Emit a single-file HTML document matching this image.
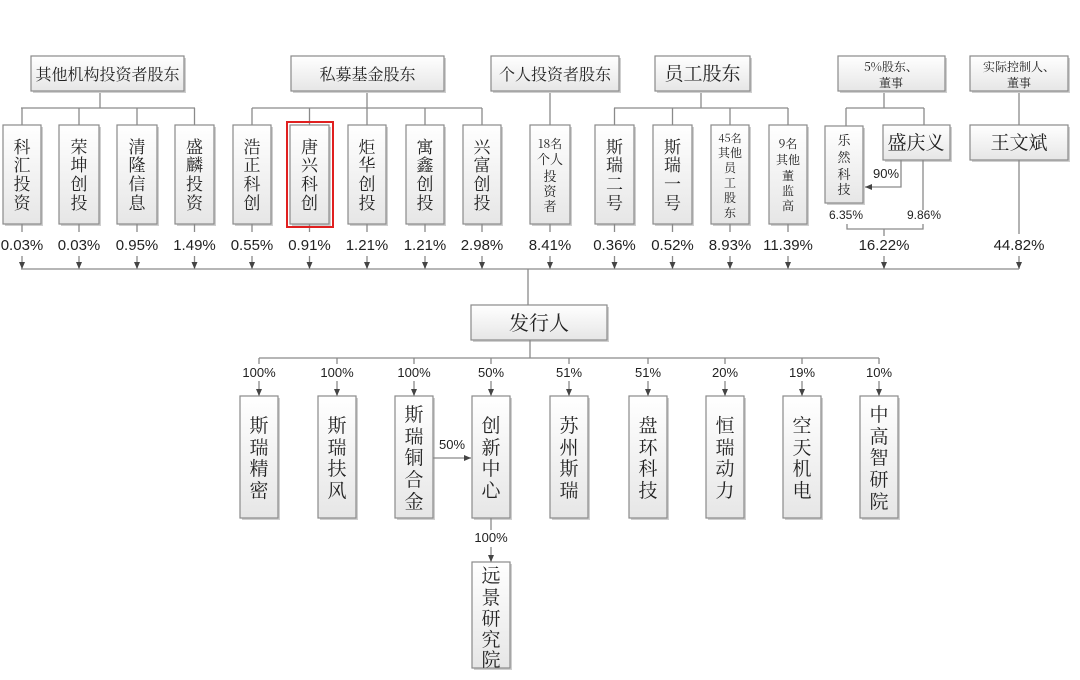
<!DOCTYPE html>
<html><head><meta charset="utf-8">
<style>
html,body{margin:0;padding:0;background:#fff;}
svg{display:block;}
text{font-family:"Liberation Sans","Noto Sans CJK SC",sans-serif;fill:#222;}
.cj{font-family:"Noto Serif CJK SC","Noto Sans CJK SC",serif;}
</style></head>
<body>
<svg id="s" width="1080" height="680" viewBox="0 0 1080 680" xmlns="http://www.w3.org/2000/svg">
<defs>
<linearGradient id="g" x1="0" y1="0" x2="0" y2="1">
<stop offset="0" stop-color="#ffffff"/><stop offset="1" stop-color="#e6e6e6"/>
</linearGradient>
<marker id="a" markerWidth="8" markerHeight="8" refX="7" refY="4" orient="auto" markerUnits="userSpaceOnUse">
<path d="M0,1 L7,4 L0,7 Z" fill="#444"/>
</marker>
</defs>
<g id="root"></g>
</svg>
<script>
var R=document.getElementById('root');var NS='http://www.w3.org/2000/svg';
function el(t,a,txt){var e=document.createElementNS(NS,t);for(var k in a)e.setAttribute(k,a[k]);if(txt!==undefined)e.textContent=txt;R.appendChild(e);return e;}
function box(x1,y1,x2,y2){el('rect',{x:x1+2,y:y1+2,width:x2-x1,height:y2-y1,fill:'#cfcfcf'});el('rect',{x:x1,y:y1,width:x2-x1,height:y2-y1,fill:'url(#g)',stroke:'#8a8a8a','stroke-width':1.2});}
function ln(pts,arrow){var a={points:pts,fill:'none',stroke:'#8a8a8a','stroke-width':1.3};if(arrow)a['marker-end']='url(#a)';el('polyline',a);}
function txt(x,y,s,size,cls){el('text',{x:x,y:y,'font-size':size,'text-anchor':'middle','class':cls||''},s);}
function vtext(cx,lines,ys,size){for(var i=0;i<lines.length;i++)txt(cx,ys[i],lines[i],size,'cj');}
ln('100,91 100,108');ln('21,108 195,108');
ln('367,91 367,108');ln('252,108 482,108');
ln('550,91 550,125');
ln('701,91 701,108');ln('614,108 788,108');
ln('884,91 884,108');ln('846,108 924,108');ln('846,108 846,126');ln('924,108 924,125');
ln('1019,91 1019,125');
var G=[[31,184,'其他机构投资者股东',16],[291,444,'私募基金股东',16],[491,619,'个人投资者股东',16],[655,750,'员工股东',19]];
G.forEach(function(g){box(g[0],56,g[1],91);txt((g[0]+g[1])/2,80,g[2],g[3],'cj');});
box(838,56,945,91);txt(891,71,'5%股东、',12,'cj');txt(891,87,'董事',12,'cj');
box(970,56,1068,91);txt(1019,71,'实际控制人、',12,'cj');txt(1019,87,'董事',12,'cj');
var B=[[3,41,'科汇投资'],[59,99,'荣坤创投'],[117,157,'清隆信息'],[175,214,'盛麟投资'],[233,271,'浩正科创'],[290,329,'唐兴科创'],[348,386,'炬华创投'],[406,444,'寓鑫创投'],[463,501,'兴富创投'],[595,634,'斯瑞二号'],[653,692,'斯瑞一号']];
var P={'科汇投资':'0.03%','荣坤创投':'0.03%','清隆信息':'0.95%','盛麟投资':'1.49%','浩正科创':'0.55%','唐兴科创':'0.91%','炬华创投':'1.21%','寓鑫创投':'1.21%','兴富创投':'2.98%','斯瑞二号':'0.36%','斯瑞一号':'0.52%'};
B.forEach(function(b){var cx=(b[0]+b[1])/2;ln(cx+',108 '+cx+',125');
box(b[0],125,b[1],224);vtext(cx,b[2].split(''),[153,171,190,209],17);
ln(cx+',224 '+cx+',232');txt(cx,250,P[b[2]],15);ln(cx+',256 '+cx+',269',true);});
function sp(x1,x2,lines,ys,sizes,pct,noTop){var cx=(x1+x2)/2;if(!noTop)ln(cx+',108 '+cx+',125');box(x1,125,x2,224);for(var i=0;i<lines.length;i++)txt(cx,ys[i],lines[i],sizes[i],'cj');ln(cx+',224 '+cx+',232');txt(cx,250,pct,15);ln(cx+',256 '+cx+',269',true);}
sp(530,570,['18名','个人','投','资','者'],[148,164,181,196,211],[12,13,13,13,13],'8.41%',true);
sp(711,749,['45名','其他','员','工','股','东'],[142,157,172,187,202,217],[11,12,12,12,12,12],'8.93%');
sp(769,807,['9名','其他','董','监','高'],[148,164,180,195,210],[12,12,12,12,12],'11.39%');
box(825,126,863,203);vtext(844,['乐','然','科','技'],[145,162,179,194],13);
box(883,125,950,160);txt(916,149,'盛庆义',19,'cj');
ln('901,160 901,187 865,187',true);txt(886,178,'90%',13);
ln('923,160 923,210');
txt(846,219,'6.35%',12);txt(924,219,'9.86%',12);
ln('847,224 847,229 923,229 923,224');ln('884,229 884,236');
txt(884,250,'16.22%',15);ln('884,256 884,269',true);
box(970,125,1068,160);txt(1019,149,'王文斌',19,'cj');
ln('1019,160 1019,234');txt(1019,250,'44.82%',15);ln('1019,256 1019,269',true);
ln('21,269 1019,269');ln('528,269 528,305');
box(471,305,607,340);txt(539,330,'发行人',20,'cj');
ln('530,340 530,358');ln('259,358 879,358');
var S=[[259,'100%','斯瑞精密'],[337,'100%','斯瑞扶风'],[414,'100%','斯瑞铜合金'],[491,'50%','创新中心'],[569,'51%','苏州斯瑞'],[648,'51%','盘环科技'],[725,'20%','恒瑞动力'],[802,'19%','空天机电'],[879,'10%','中高智研院']];
S.forEach(function(s){var cx=s[0];ln(cx+',358 '+cx+',364');txt(cx,377,s[1],13);ln(cx+',381 '+cx+',396',true);
box(cx-19,396,cx+19,518);var ch=s[2].split('');var ys=ch.length==5?[421,443,464,486,508]:[432,454,475,497];vtext(cx,ch,ys,19);});
ln('433,458 471,458',true);txt(452,449,'50%',13);
txt(491,542,'100%',13);ln('491,518 491,530');ln('491,547 491,562',true);
box(472,562,510,668);vtext(491,['远','景','研','究','院'],[582,604,625,646,666],19);
el('rect',{x:287,y:122,width:46,height:105,fill:'none',stroke:'#e02020','stroke-width':2});
</script>
</body></html>
